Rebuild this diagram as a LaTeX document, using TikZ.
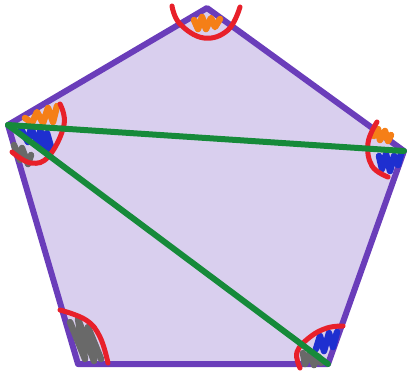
\documentclass[tikz,border=0pt]{standalone}
\definecolor{penpurple}{RGB}{106,61,186}
\definecolor{penfill}{RGB}{217,207,238}
\definecolor{pengreen}{RGB}{22,138,58}
\definecolor{penred}{RGB}{232,32,42}
\definecolor{penorange}{RGB}{245,127,23}
\definecolor{penblue}{RGB}{30,47,208}
\definecolor{pengray}{RGB}{105,105,105}
\begin{document}
\begin{tikzpicture}[x=1pt,y=-1pt,
  edge/.style={draw=penpurple,line width=6pt,line join=round,fill=penfill},
  diag/.style={draw=pengreen,line width=6pt,line cap=round},
  arcmark/.style={draw=penred,line width=5pt,line cap=round},
  scrib/.style={line width=6.5pt,line cap=round,line join=round}]
\useasboundingbox (0,0) rectangle (409,376);
\coordinate (T) at (207,8);
\coordinate (R) at (404,151);
\coordinate (BR) at (328,364);
\coordinate (BL) at (78,364);
\coordinate (L) at (8,125);
\path[edge] (T) -- (R) -- (BR) -- (BL) -- (L) -- cycle;
% scribbles
\draw[scrib,penorange] (194,20) -- (198,29) -- (202,17) -- (206,29) -- (211,18) -- (215,27) -- (220,19);
\draw[scrib,penorange] (25,118) -- (32,123) -- (37,112) -- (43,123) -- (48,108) -- (53,122) -- (57,106);
\draw[scrib,penblue] (21,129) -- (28,142) -- (31,128) -- (40,148) -- (40,130) -- (48,151) -- (47,133) -- (51,147);
\draw[scrib,pengray] (14,145) -- (20,160) -- (22,148) -- (28,164) -- (31,155);
\draw[scrib,penorange] (374,136) -- (378,129) -- (380,140) -- (385,131) -- (388,141) -- (391,135);
\draw[scrib,penblue] (379,156) -- (382,169) -- (386,154) -- (390,171) -- (394,156) -- (398,165) -- (401,154);
\draw[scrib,penblue] (316,349) -- (320,336) -- (324,351) -- (329,333) -- (333,347) -- (337,332);
\draw[scrib,pengray] (303,353) -- (305,364) -- (310,353) -- (314,365) -- (318,356) -- (321,363);
\draw[scrib,pengray] (70,322) -- (85,359) -- (78,319) -- (94,361) -- (88,327) -- (101,359);
% angle arcs
\draw[arcmark] plot[smooth,tension=0.7] coordinates {(172,6) (180,24) (204,38) (228,30) (240,7)};
\draw[arcmark] plot[smooth,tension=0.7] coordinates {(60,104) (64,125) (49,156) (31,163) (12,152)};
\draw[arcmark] plot[smooth,tension=0.7] coordinates {(377,122) (368,143) (372,166) (388,177)};
\draw[arcmark] plot[smooth,tension=0.7] coordinates {(300,368) (297,352) (310,337) (327,328) (343,326)};
\draw[arcmark] plot[smooth,tension=0.7] coordinates {(60,310) (86,320) (100,337) (108,363)};
% diagonals
\draw[diag] (L) -- (R);
\draw[diag] (L) -- (BR);
\end{tikzpicture}
\end{document}
